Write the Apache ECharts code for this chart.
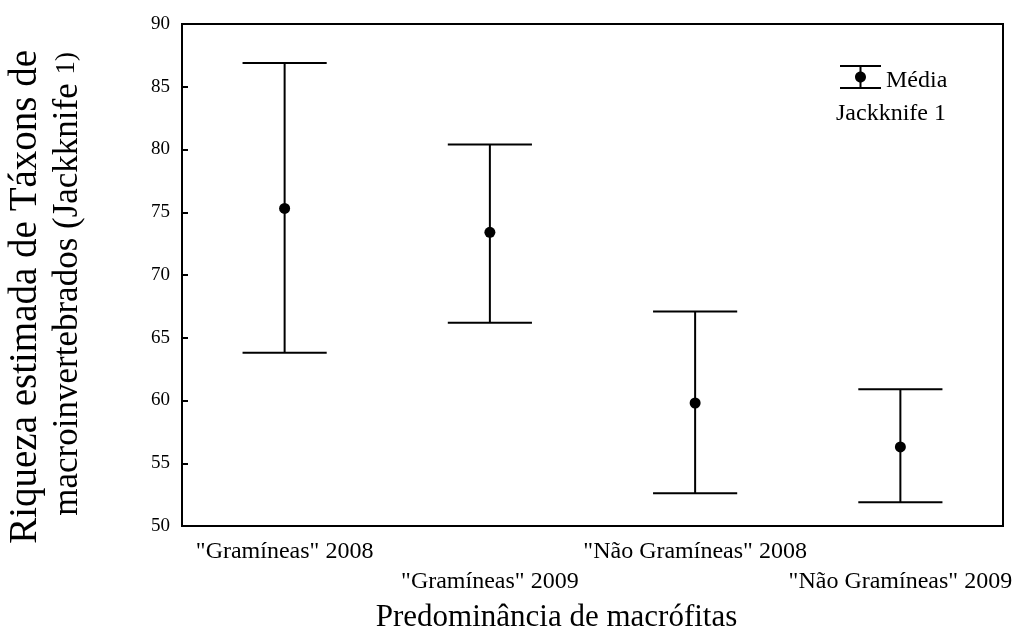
<!DOCTYPE html>
<html>
<head>
<meta charset="utf-8">
<script src="https://cdn.jsdelivr.net/npm/echarts@6/dist/echarts.min.js"></script>
<style>
  html, body { margin: 0; padding: 0; background: #fff; }
  #chart { width: 1016px; height: 631px; }
</style>
</head>
<body>
<div id="chart"></div>
<script>
// Jackknife 1 richness estimates per macrophyte group and year
const categories = ['"Gramíneas" 2008', '"Gramíneas" 2009', '"Não Gramíneas" 2008', '"Não Gramíneas" 2009'];
const meanValues = [75.3, 73.4, 59.8, 56.3];
const lowerValues = [63.8, 66.2, 52.6, 51.9];
const upperValues = [86.9, 80.4, 67.1, 60.9];
const yMin = 50;
const yMax = 90;
const yStep = 5;

const serif = '"Liberation Serif", "Times New Roman", serif';

const errorData = categories.map((c, i) => [i, lowerValues[i], upperValues[i]]);
const meanData = categories.map((c, i) => [i, meanValues[i]]);

// legend glyph: two caps, a split stem and a round dot (bezier circle)
function circlePath(cx, cy, r) {
  const k = 0.5523 * r;
  return `M${cx + r},${cy}C${cx + r},${cy + k} ${cx + k},${cy + r} ${cx},${cy + r}` +
         `C${cx - k},${cy + r} ${cx - r},${cy + k} ${cx - r},${cy}` +
         `C${cx - r},${cy - k} ${cx - k},${cy - r} ${cx},${cy - r}` +
         `C${cx + k},${cy - r} ${cx + r},${cy - k} ${cx + r},${cy}Z`;
}
const legendIcon = 'path://M0,0h41v2h-41z M19.5,2h2v5h-2z M19.5,17h2v5h-2z M0,22h41v2h-41z ' + circlePath(20.5, 12, 5.5);

const chart = echarts.init(document.getElementById('chart'), null, { renderer: 'canvas' });

chart.setOption({
  backgroundColor: '#fff',
  animation: false,
  textStyle: { fontFamily: serif, color: '#000' },
  grid: {
    left: 182, right: 13, top: 24, bottom: 105,
    outerBoundsMode: 'none',
    containLabel: false,
    show: true, borderColor: '#000', borderWidth: 2, backgroundColor: 'transparent'
  },
  legend: {
    left: 840, top: 65,
    padding: 0,
    itemWidth: 41, itemHeight: 24,
    selectedMode: false,
    formatter: name => '{t|' + name + '}',
    textStyle: {
      fontFamily: serif, fontSize: 24, color: '#000',
      rich: { t: { fontFamily: serif, fontSize: 24, color: '#000', padding: [7, 0, 0, 0] } }
    },
    data: [{ name: 'Média', icon: legendIcon, itemStyle: { color: '#000', borderWidth: 0, opacity: 1 } }]
  },
  graphic: [
    {
      type: 'text',
      left: 836, top: 102,
      style: { text: 'Jackknife 1', font: '24px ' + serif, fill: '#000' }
    },
    // vertical axis title, two lines reading bottom to top, ending level with each other
    {
      type: 'text',
      x: 26, y: 50,
      rotation: Math.PI / 2,
      style: {
        text: 'Riqueza estimada de Táxons de',
        font: '39px ' + serif,
        fill: '#000',
        align: 'right',
        verticalAlign: 'middle'
      }
    },
    {
      type: 'text',
      x: 68, y: 52,
      rotation: Math.PI / 2,
      style: {
        text: '{a|macroinvertebrados (Jackknife }{b|1)}',
        fill: '#000',
        align: 'right',
        verticalAlign: 'middle',
        rich: {
          a: { fontFamily: serif, fontSize: 35, fill: '#000' },
          b: { fontFamily: serif, fontSize: 27, fill: '#000', padding: [0, 0, 3, 0] }
        }
      }
    }
  ],
  xAxis: {
    type: 'category',
    data: categories,
    boundaryGap: true,
    name: 'Predominância de macrófitas',
    nameLocation: 'middle',
    nameGap: 72,
    nameTextStyle: { fontFamily: serif, fontSize: 31, color: '#000', padding: [0, 72, 0, 0] },
    axisLine: { lineStyle: { color: '#000', width: 2 } },
    axisTick: { inside: true, length: 6, lineStyle: { color: '#000', width: 1.5 } },
    axisLabel: {
      interval: 0,
      margin: 11,
      fontFamily: serif,
      fontSize: 24,
      lineHeight: 30,
      color: '#000',
      formatter: (v, i) => (i % 2 === 1 ? '\n' + v : v)
    },
    splitLine: { show: false }
  },
  yAxis: {
    type: 'value',
    min: yMin, max: yMax, interval: yStep,
    axisLine: { show: true, lineStyle: { color: '#000', width: 2 } },
    axisTick: { show: true, inside: true, length: 6, lineStyle: { color: '#000', width: 2 } },
    axisLabel: { margin: 12, fontFamily: serif, fontSize: 19, color: '#000' },
    splitLine: { show: false }
  },
  series: [
    {
      name: 'Média',
      type: 'custom',
      data: errorData,
      encode: { x: 0, y: [1, 2] },
      renderItem: (params, api) => {
        const i = api.value(0);
        const lo = api.coord([i, api.value(1)]);
        const hi = api.coord([i, api.value(2)]);
        const half = api.size([1, 0])[0] * 0.205;
        const style = { stroke: '#000', lineWidth: 2, fill: null };
        return {
          type: 'group',
          children: [
            { type: 'line', shape: { x1: hi[0], y1: hi[1], x2: lo[0], y2: lo[1] }, style },
            { type: 'line', shape: { x1: hi[0] - half, y1: hi[1], x2: hi[0] + half, y2: hi[1] }, style },
            { type: 'line', shape: { x1: lo[0] - half, y1: lo[1], x2: lo[0] + half, y2: lo[1] }, style }
          ]
        };
      },
      z: 2
    },
    {
      name: 'Média',
      type: 'scatter',
      data: meanData,
      symbol: 'circle',
      symbolSize: 11,
      itemStyle: { color: '#000', opacity: 1 },
      z: 3
    }
  ]
});
</script>
</body>
</html>
